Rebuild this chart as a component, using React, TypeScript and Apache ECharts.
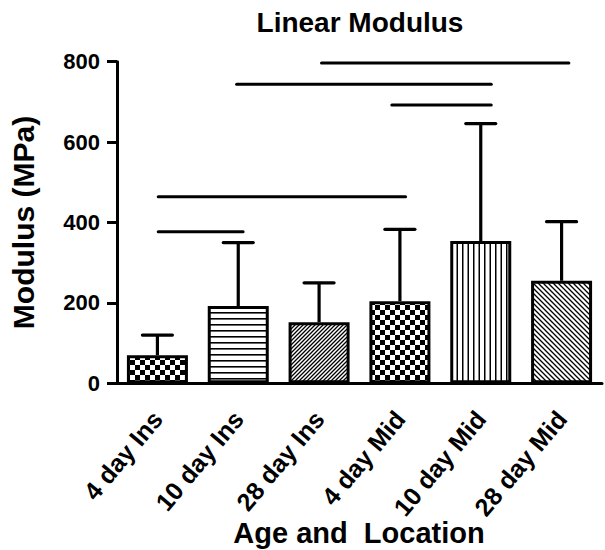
import React, { useEffect, useRef } from "react";
import * as echarts from "echarts";

const categories = ["4 day Ins", "10 day Ins", "28 day Ins", "4 day Mid", "10 day Mid", "28 day Mid"];
const means = [70, 192, 152, 204, 354, 255];
const errorTops = [120, 350, 250, 383, 646, 402];
const yTicks = [0, 200, 400, 600, 800];
// significance bars: [start (category units), end (category units), level]
const sigStart = [2.03, 0.98, 2.9, 0.01, 0.01];
const sigEnd = [5.09, 4.13, 4.13, 3.07, 1.06];
const sigLevel = [797, 744, 692, 464, 377];
const patterns = ["checker", "hlines", "diagR", "checker", "vlines", "diagL"];

function makePattern(kind: string): HTMLCanvasElement {
  const c = document.createElement("canvas");
  let w = 10, h = 10;
  if (kind === "checker") { w = 10; h = 10; }
  if (kind === "hlines") { w = 6; h = 6; }
  if (kind === "vlines") { w = 11; h = 11; }
  if (kind === "diagR") { w = 4; h = 4; }
  if (kind === "diagL") { w = 5; h = 5; }
  c.width = w; c.height = h;
  const ctx = c.getContext("2d")!;
  ctx.fillStyle = "#fff";
  ctx.fillRect(0, 0, w, h);
  ctx.fillStyle = "#000";
  ctx.strokeStyle = "#000";
  if (kind === "checker") {
    ctx.fillRect(0, 0, 5, 5);
    ctx.fillRect(5, 5, 5, 5);
  } else if (kind === "hlines") {
    ctx.fillRect(0, 0, w, 1.6);
  } else if (kind === "vlines") {
    ctx.fillRect(0, 0, 1.5, h);
    ctx.fillRect(5.5, 0, 1.5, h);
  } else if (kind === "diagR") {
    ctx.lineWidth = 1.3;
    ctx.beginPath();
    ctx.moveTo(-2, w + 2); ctx.lineTo(w + 2, -2);
    ctx.moveTo(-2, 2); ctx.lineTo(2, -2);
    ctx.moveTo(w - 2, w + 2); ctx.lineTo(w + 2, w - 2);
    ctx.stroke();
  } else if (kind === "diagL") {
    ctx.lineWidth = 1.3;
    ctx.beginPath();
    ctx.moveTo(-2, -2); ctx.lineTo(w + 2, w + 2);
    ctx.moveTo(w - 2, -2); ctx.lineTo(w + 2, 2);
    ctx.moveTo(-2, w - 2); ctx.lineTo(2, w + 2);
    ctx.stroke();
  }
  return c;
}

const FONT = "'Liberation Sans', Arial, Helvetica, sans-serif";

export default function App() {
  const ref = useRef<HTMLDivElement>(null);
  useEffect(() => {
    if (!ref.current) return;
    const chart = echarts.init(ref.current, null, { renderer: "svg" });
    const barData = means.map((v, i) => {
      const cv = makePattern(patterns[i]);
      return {
        value: v,
        itemStyle: {
          color: { image: cv, repeat: "repeat", imageWidth: cv.width, imageHeight: cv.height } as any,
          borderColor: "#000",
          borderWidth: 3,
        },
      };
    });
    const errData = means.map((m, i) => [i, errorTops[i], m]);
    const sigData = sigLevel.map((y, i) => [0, y, sigStart[i], sigEnd[i]]);
    chart.setOption({
      animation: false,
      grid: { left: 117, right: 3, top: 61.7, bottom: 166.7, containLabel: false },
      graphic: [
        {
          type: "text", x: 360, y: 22, z: 10,
          style: { text: "Linear Modulus", textAlign: "center", textVerticalAlign: "middle", font: `bold 28px ${FONT}`, fill: "#000" },
        },
        {
          type: "text", x: 359, y: 533, z: 10,
          style: { text: "Age and  Location", textAlign: "center", textVerticalAlign: "middle", font: `bold 29px ${FONT}`, fill: "#000" },
        },
      ],
      xAxis: {
        type: "category",
        data: categories,
        axisLine: { lineStyle: { color: "#000", width: 3 } },
        axisTick: { alignWithLabel: true, length: 10, lineStyle: { color: "#000", width: 3 } },
        axisLabel: { rotate: 50, margin: 31, fontSize: 25, fontWeight: "bold", fontFamily: FONT, color: "#000", interval: 0 },
      },
      yAxis: {
        type: "value",
        min: yTicks[0],
        max: yTicks[yTicks.length - 1],
        interval: 200,
        name: "Modulus (MPa)",
        nameLocation: "middle",
        nameGap: 79,
        nameTextStyle: { fontSize: 30, fontWeight: "bold", fontFamily: FONT, color: "#000" },
        axisLine: { show: true, lineStyle: { color: "#000", width: 3 } },
        axisTick: { show: true, length: 10, lineStyle: { color: "#000", width: 3 } },
        axisLabel: { margin: 17, fontSize: 22, fontWeight: "bold", fontFamily: FONT, color: "#000" },
        splitLine: { show: false },
      },
      series: [
        {
          type: "bar",
          data: barData,
          barWidth: 61,
          z: 2,
        },
        {
          type: "custom",
          z: 3,
          data: errData,
          encode: { x: 0, y: 1 },
          renderItem: (params: any, api: any) => {
            const i = api.value(0);
            const top = api.coord([i, api.value(1)]);
            const base = api.coord([i, api.value(2)]);
            const half = 15;
            const style = { stroke: "#000", lineWidth: 3.2 };
            return {
              type: "group",
              children: [
                { type: "line", shape: { x1: base[0], y1: base[1], x2: top[0], y2: top[1] }, style },
                { type: "line", shape: { x1: top[0] - half, y1: top[1], x2: top[0] + half, y2: top[1] }, style: { ...style, lineCap: "round" } },
              ],
            };
          },
        },
        {
          type: "custom",
          z: 3,
          data: sigData,
          encode: { x: 0, y: 1 },
          renderItem: (params: any, api: any) => {
            const p = api.coord([0, api.value(1)]);
            const bw = api.size([1, 0])[0];
            const x1 = p[0] + api.value(2) * bw;
            const x2 = p[0] + api.value(3) * bw;
            return {
              type: "line",
              shape: { x1, y1: p[1], x2, y2: p[1] },
              style: { stroke: "#000", lineWidth: 3, lineCap: "round" },
            };
          },
        },
      ],
    });
    return () => chart.dispose();
  }, []);
  return <div ref={ref} style={{ position: "absolute", left: 0, top: 0, width: 605, height: 550 }} />;
}
